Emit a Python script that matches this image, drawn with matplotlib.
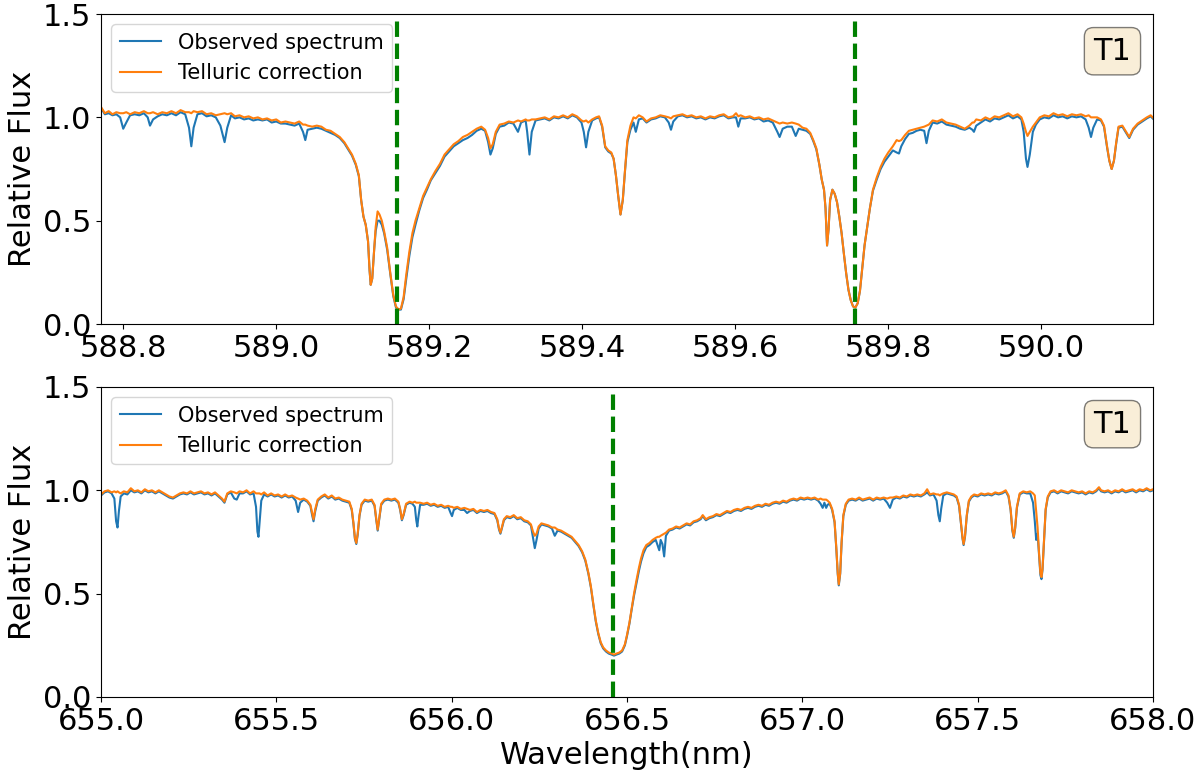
#!/usr/bin/env python3

import matplotlib
matplotlib.use("Agg")
import matplotlib.pyplot as plt

# Na D region (nm), observed spectrum and telluric-corrected spectrum
na_wave = [
    588.771, 588.776, 588.781, 588.786, 588.791, 588.796, 588.800, 588.804, 588.809, 588.815,
    588.821, 588.827, 588.832, 588.835, 588.839, 588.845, 588.851, 588.857, 588.863, 588.869,
    588.875, 588.881, 588.886, 588.889, 588.892, 588.897, 588.903, 588.909, 588.915, 588.921,
    588.927, 588.9325, 588.936, 588.941, 588.946, 588.952, 588.958, 588.964, 588.970, 588.976,
    588.982, 588.988, 588.994, 589.000, 589.006, 589.012, 589.018, 589.024, 589.030, 589.035,
    589.038, 589.041, 589.047, 589.053, 589.059, 589.065, 589.071, 589.077, 589.083, 589.089,
    589.094, 589.099, 589.104, 589.108, 589.111, 589.114, 589.117, 589.120, 589.122, 589.1235,
    589.1255, 589.128, 589.130, 589.1325, 589.135, 589.138, 589.141, 589.145, 589.149, 589.153,
    589.1565, 589.160, 589.163, 589.1665, 589.170, 589.174, 589.178, 589.182, 589.187, 589.192,
    589.197, 589.202, 589.208, 589.214, 589.220, 589.226, 589.232, 589.238, 589.244, 589.250,
    589.256, 589.262, 589.268, 589.273, 589.277, 589.280, 589.283, 589.287, 589.292, 589.298,
    589.304, 589.310, 589.316, 589.320, 589.326, 589.328, 589.331, 589.334, 589.339, 589.345,
    589.351, 589.357, 589.363, 589.369, 589.375, 589.381, 589.387, 589.393, 589.399, 589.402,
    589.405, 589.408, 589.413, 589.418, 589.422, 589.426, 589.430, 589.434, 589.438, 589.441,
    589.444, 589.447, 589.450, 589.453, 589.456, 589.459, 589.463, 589.467, 589.470, 589.474,
    589.479, 589.484, 589.490, 589.496, 589.502, 589.508, 589.513, 589.516, 589.519, 589.525,
    589.531, 589.537, 589.543, 589.549, 589.555, 589.561, 589.567, 589.573, 589.579, 589.585,
    589.591, 589.597, 589.601, 589.604, 589.607, 589.613, 589.619, 589.625, 589.631, 589.637,
    589.643, 589.649, 589.655, 589.658, 589.662, 589.668, 589.674, 589.679, 589.683, 589.688,
    589.693, 589.698, 589.702, 589.706, 589.710, 589.713, 589.716, 589.718, 589.720, 589.722,
    589.724, 589.727, 589.730, 589.733, 589.736, 589.739, 589.742, 589.745, 589.748, 589.751,
    589.754, 589.757, 589.760, 589.763, 589.766, 589.769, 589.7725, 589.776, 589.780, 589.785,
    589.790, 589.795, 589.800, 589.806, 589.811, 589.814, 589.817, 589.822, 589.827, 589.832,
    589.837, 589.842, 589.847, 589.850, 589.853, 589.858, 589.864, 589.870, 589.876, 589.882,
    589.888, 589.894, 589.900, 589.906, 589.910, 589.912, 589.915, 589.921, 589.927, 589.933,
    589.939, 589.945, 589.951, 589.957, 589.963, 589.969, 589.974, 589.977, 589.980, 589.982,
    589.985, 589.989, 589.993, 589.998, 590.004, 590.010, 590.016, 590.022, 590.028, 590.034,
    590.040, 590.046, 590.052, 590.058, 590.062, 590.065, 590.068, 590.073, 590.078, 590.082,
    590.086, 590.089, 590.092, 590.095, 590.098, 590.101, 590.106, 590.111, 590.115, 590.120,
    590.126, 590.132, 590.138, 590.143, 590.147, 590.150,
]
na_tel = [
    1.05, 1.02, 1.03, 1.015, 1.025, 1.02, 1.02, 1.025, 1.015, 1.025,
    1.02, 1.03, 1.02, 1.02, 1.025, 1.015, 1.025, 1.02, 1.03, 1.02,
    1.035, 1.025, 1.025, 1.02, 1.03, 1.025, 1.03, 1.015, 1.02, 1.01,
    1.015, 1.02, 1.015, 1.02, 1.005, 1.01, 1.0, 1.005, 0.995, 1.0,
    0.99, 0.995, 0.985, 0.99, 0.975, 0.98, 0.975, 0.97, 0.98, 0.965,
    0.965, 0.96, 0.955, 0.96, 0.955, 0.94, 0.935, 0.92, 0.905, 0.88,
    0.85, 0.82, 0.775, 0.72, 0.60, 0.52, 0.48, 0.40, 0.26, 0.19,
    0.22, 0.36, 0.47, 0.545, 0.53, 0.50, 0.45, 0.37, 0.25, 0.14,
    0.085, 0.07, 0.075, 0.13, 0.24, 0.35, 0.44, 0.50, 0.56, 0.62,
    0.66, 0.70, 0.74, 0.775, 0.82, 0.845, 0.87, 0.885, 0.905, 0.915,
    0.93, 0.945, 0.955, 0.94, 0.90, 0.85, 0.87, 0.93, 0.965, 0.97,
    0.98, 0.975, 0.985, 0.98, 0.99, 0.985, 0.985, 0.99, 0.99, 0.995,
    1.0, 0.99, 1.005, 1.0, 1.01, 1.0, 1.015, 1.005, 0.985, 0.98,
    0.985, 0.975, 0.99, 1.0, 1.005, 0.96, 0.86, 0.84, 0.83, 0.80,
    0.72, 0.62, 0.53, 0.60, 0.75, 0.89, 0.96, 1.0, 0.995, 1.01,
    1.0, 0.98, 0.995, 1.0, 1.01, 1.005, 1.0, 0.995, 1.005, 1.01,
    1.015, 1.005, 1.01, 1.0, 1.005, 0.995, 1.005, 1.0, 1.01, 1.015,
    1.0, 1.005, 1.02, 1.005, 1.01, 1.0, 1.005, 0.995, 1.0, 0.99,
    0.995, 0.985, 0.975, 0.97, 0.975, 0.97, 0.975, 0.97, 0.965, 0.95,
    0.945, 0.925, 0.89, 0.85, 0.77, 0.70, 0.65, 0.56, 0.38, 0.46,
    0.60, 0.65, 0.63, 0.59, 0.52, 0.44, 0.34, 0.245, 0.165, 0.115,
    0.085, 0.08, 0.10, 0.16, 0.27, 0.38, 0.47, 0.56, 0.65, 0.71,
    0.76, 0.80, 0.83, 0.86, 0.89, 0.885, 0.89, 0.915, 0.935, 0.94,
    0.945, 0.95, 0.955, 0.96, 0.965, 0.985, 0.98, 0.99, 0.975, 0.97,
    0.965, 0.955, 0.945, 0.96, 0.975, 0.975, 0.99, 0.985, 1.0, 0.99,
    1.005, 1.0, 1.01, 1.02, 1.005, 1.015, 1.0, 0.97, 0.93, 0.91,
    0.93, 0.955, 0.975, 1.0, 1.01, 1.005, 1.02, 1.01, 1.015, 1.005,
    1.015, 1.01, 1.015, 1.005, 1.01, 1.0, 1.0, 1.0, 0.99, 0.96,
    0.86, 0.79, 0.75, 0.79, 0.88, 0.955, 0.96, 0.93, 0.905, 0.945,
    0.97, 0.985, 1.0, 1.01, 0.995, 1.0,
]
na_obs = [
    1.045, 1.015, 1.02, 1.01, 1.015, 1.0, 0.945, 0.975, 1.01, 1.015,
    1.01, 1.02, 1.0, 0.96, 0.99, 1.005, 1.015, 1.01, 1.02, 1.01,
    1.025, 1.015, 0.95, 0.86, 0.95, 1.015, 1.02, 1.005, 1.01, 1.0,
    0.96, 0.88, 0.95, 1.01, 0.995, 1.0, 0.99, 0.995, 0.985, 0.99,
    0.985, 0.99, 0.975, 0.98, 0.97, 0.97, 0.965, 0.96, 0.97, 0.93,
    0.89, 0.94, 0.945, 0.95, 0.945, 0.935, 0.925, 0.915, 0.9, 0.875,
    0.845, 0.815, 0.77, 0.715, 0.60, 0.52, 0.48, 0.40, 0.26, 0.19,
    0.22, 0.36, 0.45, 0.50, 0.50, 0.48, 0.44, 0.36, 0.245, 0.135,
    0.08, 0.07, 0.07, 0.12, 0.22, 0.33, 0.42, 0.48, 0.55, 0.61,
    0.65, 0.695, 0.73, 0.765, 0.81, 0.835, 0.86, 0.875, 0.89, 0.9,
    0.915, 0.935, 0.945, 0.935, 0.88, 0.82, 0.85, 0.92, 0.955, 0.96,
    0.975, 0.97, 0.93, 0.975, 0.985, 0.93, 0.82, 0.93, 0.985, 0.99,
    0.995, 0.985, 1.0, 0.995, 1.005, 0.995, 1.01, 1.0, 0.975, 0.93,
    0.855, 0.93, 0.985, 0.995, 1.0, 0.955, 0.855, 0.835, 0.825, 0.80,
    0.72, 0.62, 0.53, 0.60, 0.745, 0.88, 0.94, 0.975, 0.93, 0.99,
    0.995, 0.975, 0.99, 0.995, 1.005, 1.0, 0.975, 0.94, 0.98, 1.005,
    1.01, 1.0, 1.005, 0.995, 1.0, 0.99, 1.0, 0.995, 1.005, 1.01,
    0.995, 1.0, 1.0, 0.955, 0.995, 0.995, 1.0, 0.99, 0.995, 0.98,
    0.985, 0.975, 0.93, 0.905, 0.945, 0.955, 0.955, 0.91, 0.945, 0.94,
    0.935, 0.92, 0.885, 0.845, 0.77, 0.70, 0.65, 0.56, 0.38, 0.46,
    0.60, 0.65, 0.63, 0.59, 0.52, 0.44, 0.34, 0.245, 0.165, 0.115,
    0.085, 0.08, 0.10, 0.16, 0.27, 0.38, 0.47, 0.56, 0.645, 0.70,
    0.75, 0.785, 0.81, 0.84, 0.83, 0.825, 0.86, 0.895, 0.92, 0.925,
    0.935, 0.94, 0.935, 0.875, 0.935, 0.975, 0.97, 0.98, 0.965, 0.96,
    0.955, 0.945, 0.94, 0.95, 0.94, 0.93, 0.96, 0.975, 0.99, 0.98,
    0.995, 0.99, 1.0, 1.01, 0.995, 1.005, 0.99, 0.93, 0.80, 0.76,
    0.82, 0.93, 0.965, 0.99, 1.0, 0.995, 1.01, 1.0, 1.005, 0.995,
    1.005, 1.0, 1.005, 0.99, 0.95, 0.905, 0.95, 0.99, 0.985, 0.955,
    0.855, 0.79, 0.75, 0.79, 0.875, 0.95, 0.955, 0.925, 0.9, 0.94,
    0.965, 0.98, 0.995, 1.005, 0.99, 0.995,
]

# H-alpha region (nm)
ha_wave = [
    655.000, 655.010, 655.020, 655.030, 655.038, 655.043, 655.047, 655.051, 655.056, 655.065,
    655.075, 655.085, 655.095, 655.105, 655.115, 655.125, 655.135, 655.145, 655.155, 655.165,
    655.175, 655.185, 655.195, 655.205, 655.215, 655.225, 655.235, 655.245, 655.255, 655.265,
    655.275, 655.285, 655.295, 655.305, 655.315, 655.325, 655.335, 655.345, 655.352, 655.360,
    655.370, 655.380, 655.387, 655.395, 655.405, 655.415, 655.425, 655.435, 655.442, 655.446,
    655.449, 655.452, 655.457, 655.465, 655.475, 655.485, 655.495, 655.505, 655.515, 655.525,
    655.535, 655.545, 655.555, 655.562, 655.568, 655.578, 655.588, 655.597, 655.602, 655.606,
    655.611, 655.618, 655.628, 655.638, 655.648, 655.658, 655.668, 655.678, 655.688, 655.698,
    655.708, 655.715, 655.720, 655.724, 655.728, 655.732, 655.737, 655.743, 655.752, 655.762,
    655.772, 655.780, 655.785, 655.789, 655.793, 655.799, 655.808, 655.818, 655.828, 655.838,
    655.848, 655.853, 655.858, 655.863, 655.870, 655.880, 655.888, 655.895, 655.899, 655.902,
    655.905, 655.910, 655.920, 655.930, 655.940, 655.950, 655.960, 655.970, 655.980, 655.990,
    655.997, 656.001, 656.006, 656.016, 656.026, 656.036, 656.044, 656.052, 656.062, 656.072,
    656.082, 656.092, 656.102, 656.112, 656.122, 656.130, 656.135, 656.139, 656.143, 656.149,
    656.157, 656.167, 656.177, 656.187, 656.197, 656.207, 656.217, 656.226, 656.232, 656.237,
    656.242, 656.248, 656.256, 656.266, 656.276, 656.286, 656.294, 656.302, 656.312, 656.322,
    656.332, 656.342, 656.352, 656.362, 656.372, 656.381, 656.390, 656.397, 656.404, 656.411,
    656.418, 656.425, 656.432, 656.440, 656.448, 656.456, 656.463, 656.470, 656.478, 656.486,
    656.494, 656.500, 656.507, 656.513, 656.520, 656.527, 656.534, 656.540, 656.547, 656.555,
    656.564, 656.573, 656.582, 656.588, 656.592, 656.596, 656.601, 656.606, 656.611, 656.620,
    656.630, 656.640, 656.650, 656.660, 656.670, 656.680, 656.690, 656.700, 656.710, 656.716,
    656.725, 656.735, 656.745, 656.755, 656.765, 656.775, 656.785, 656.795, 656.805, 656.815,
    656.825, 656.835, 656.845, 656.855, 656.865, 656.875, 656.885, 656.895, 656.905, 656.915,
    656.925, 656.935, 656.945, 656.955, 656.965, 656.975, 656.985, 656.995, 657.005, 657.015,
    657.025, 657.035, 657.045, 657.052, 657.058, 657.063, 657.068, 657.072, 657.078, 657.085,
    657.092, 657.097, 657.101, 657.104, 657.108, 657.112, 657.117, 657.124, 657.132, 657.142,
    657.152, 657.162, 657.172, 657.182, 657.192, 657.202, 657.212, 657.222, 657.232, 657.242,
    657.250, 657.258, 657.268, 657.278, 657.288, 657.298, 657.308, 657.318, 657.328, 657.338,
    657.348, 657.356, 657.364, 657.374, 657.383, 657.388, 657.392, 657.396, 657.402, 657.412,
    657.422, 657.432, 657.440, 657.447, 657.452, 657.457, 657.460, 657.464, 657.469, 657.475,
    657.482, 657.490, 657.500, 657.510, 657.520, 657.530, 657.540, 657.550, 657.560, 657.570,
    657.580, 657.588, 657.594, 657.599, 657.603, 657.607, 657.612, 657.620, 657.630, 657.640,
    657.650, 657.658, 657.663, 657.667, 657.671, 657.675, 657.679, 657.682, 657.685, 657.689,
    657.694, 657.700, 657.708, 657.718, 657.728, 657.738, 657.748, 657.758, 657.768, 657.778,
    657.788, 657.798, 657.808, 657.818, 657.828, 657.838, 657.846, 657.852, 657.862, 657.872,
    657.882, 657.892, 657.902, 657.912, 657.922, 657.932, 657.942, 657.952, 657.962, 657.972,
    657.982, 657.992, 658.000,
]
ha_tel = [
    0.98, 0.995, 1.0, 0.99, 0.995, 0.99, 0.995, 0.99, 0.985, 0.995,
    0.99, 1.01, 0.995, 1.0, 0.99, 1.005, 0.995, 1.0, 0.99, 1.0,
    0.99, 0.98, 0.97, 0.965, 0.975, 0.985, 0.99, 0.985, 0.995, 0.985,
    0.99, 0.995, 0.985, 0.99, 0.98, 0.99, 0.975, 0.96, 0.945, 0.985,
    0.995, 0.99, 0.985, 0.995, 0.99, 1.0, 0.985, 0.995, 0.985, 0.985,
    0.985, 0.985, 0.98, 0.99, 0.975, 0.985, 0.975, 0.98, 0.97, 0.98,
    0.97, 0.975, 0.965, 0.96, 0.955, 0.96, 0.95, 0.93, 0.89, 0.86,
    0.91, 0.955, 0.97, 0.98, 0.965, 0.975, 0.96, 0.965, 0.955, 0.95,
    0.945, 0.91, 0.84, 0.77, 0.745, 0.79, 0.88, 0.935, 0.955, 0.95,
    0.955, 0.93, 0.86, 0.81, 0.86, 0.935, 0.955, 0.96, 0.955, 0.96,
    0.945, 0.91, 0.86, 0.885, 0.935, 0.945, 0.94, 0.945, 0.94, 0.94,
    0.94, 0.94, 0.935, 0.94, 0.93, 0.935, 0.925, 0.93, 0.92, 0.925,
    0.92, 0.92, 0.915, 0.92, 0.91, 0.915, 0.91, 0.905, 0.91, 0.895,
    0.905, 0.90, 0.905, 0.895, 0.89, 0.86, 0.815, 0.795, 0.82, 0.86,
    0.875, 0.87, 0.88, 0.865, 0.87, 0.855, 0.85, 0.835, 0.80, 0.78,
    0.79, 0.825, 0.84, 0.835, 0.83, 0.82, 0.82, 0.81, 0.805, 0.795,
    0.785, 0.775, 0.755, 0.735, 0.705, 0.665, 0.60, 0.535, 0.45, 0.37,
    0.31, 0.265, 0.24, 0.225, 0.215, 0.21, 0.205, 0.21, 0.215, 0.225,
    0.255, 0.30, 0.36, 0.425, 0.50, 0.565, 0.625, 0.67, 0.71, 0.735,
    0.745, 0.76, 0.77, 0.775, 0.775, 0.78, 0.785, 0.79, 0.795, 0.81,
    0.815, 0.825, 0.82, 0.83, 0.84, 0.835, 0.85, 0.855, 0.865, 0.88,
    0.86, 0.87, 0.875, 0.885, 0.88, 0.89, 0.90, 0.895, 0.905, 0.91,
    0.905, 0.915, 0.92, 0.915, 0.925, 0.93, 0.925, 0.935, 0.93, 0.94,
    0.945, 0.94, 0.95, 0.945, 0.955, 0.96, 0.955, 0.965, 0.96, 0.965,
    0.96, 0.965, 0.955, 0.96, 0.955, 0.955, 0.955, 0.95, 0.94, 0.91,
    0.85, 0.72, 0.60, 0.545, 0.60, 0.75, 0.88, 0.935, 0.955, 0.96,
    0.955, 0.965, 0.955, 0.96, 0.965, 0.955, 0.965, 0.96, 0.965, 0.96,
    0.965, 0.965, 0.97, 0.965, 0.975, 0.97, 0.98, 0.975, 0.98, 0.975,
    0.985, 1.005, 0.98, 0.985, 0.98, 0.98, 0.975, 0.98, 0.985, 0.99,
    0.985, 0.98, 0.97, 0.93, 0.85, 0.77, 0.74, 0.78, 0.88, 0.95,
    0.97, 0.98, 0.975, 0.985, 0.98, 0.985, 0.98, 0.99, 0.985, 0.99,
    1.0, 0.975, 0.91, 0.81, 0.775, 0.82, 0.92, 0.985, 0.995, 0.99,
    0.995, 0.985, 0.975, 0.90, 0.82, 0.70, 0.60, 0.58, 0.62, 0.75,
    0.91, 0.97, 0.995, 1.0, 0.99, 1.0, 0.995, 0.99, 1.0, 0.995,
    0.99, 0.995, 0.985, 0.995, 0.99, 1.0, 1.015, 1.0, 0.995, 1.0,
    0.99, 1.0, 0.995, 1.005, 0.995, 1.0, 1.005, 0.995, 1.005, 1.0,
    1.01, 1.0, 1.005,
]
ha_obs = [
    0.975, 0.99, 0.995, 0.985, 0.96, 0.85, 0.82, 0.90, 0.97, 0.985,
    0.98, 1.0, 0.99, 0.995, 0.985, 1.0, 0.99, 0.995, 0.985, 0.995,
    0.985, 0.975, 0.965, 0.96, 0.97, 0.98, 0.985, 0.98, 0.99, 0.98,
    0.985, 0.99, 0.98, 0.985, 0.975, 0.985, 0.97, 0.955, 0.94, 0.98,
    0.99, 0.96, 0.955, 0.985, 0.985, 0.995, 0.98, 0.985, 0.92, 0.80,
    0.775, 0.84, 0.95, 0.98, 0.97, 0.98, 0.97, 0.975, 0.965, 0.975,
    0.965, 0.97, 0.95, 0.895, 0.94, 0.955, 0.945, 0.925, 0.88, 0.85,
    0.90, 0.95, 0.965, 0.975, 0.96, 0.97, 0.955, 0.96, 0.95, 0.945,
    0.94, 0.905, 0.835, 0.765, 0.74, 0.785, 0.875, 0.93, 0.95, 0.945,
    0.95, 0.925, 0.855, 0.805, 0.855, 0.93, 0.95, 0.955, 0.95, 0.955,
    0.94, 0.905, 0.855, 0.88, 0.93, 0.94, 0.935, 0.92, 0.855, 0.825,
    0.87, 0.93, 0.93, 0.935, 0.925, 0.93, 0.92, 0.925, 0.915, 0.92,
    0.89, 0.875, 0.905, 0.915, 0.905, 0.905, 0.89, 0.90, 0.905, 0.89,
    0.90, 0.895, 0.90, 0.89, 0.885, 0.855, 0.81, 0.79, 0.815, 0.855,
    0.87, 0.865, 0.875, 0.86, 0.865, 0.85, 0.845, 0.83, 0.77, 0.72,
    0.76, 0.815, 0.835, 0.83, 0.825, 0.815, 0.78, 0.805, 0.80, 0.79,
    0.78, 0.77, 0.75, 0.73, 0.70, 0.66, 0.595, 0.53, 0.445, 0.365,
    0.305, 0.26, 0.235, 0.22, 0.21, 0.205, 0.20, 0.205, 0.21, 0.22,
    0.25, 0.295, 0.355, 0.42, 0.49, 0.55, 0.61, 0.655, 0.695, 0.725,
    0.735, 0.75, 0.76, 0.73, 0.71, 0.76, 0.74, 0.68, 0.78, 0.805,
    0.81, 0.82, 0.815, 0.825, 0.835, 0.83, 0.845, 0.85, 0.86, 0.875,
    0.855, 0.865, 0.87, 0.88, 0.875, 0.885, 0.895, 0.89, 0.90, 0.905,
    0.90, 0.91, 0.915, 0.91, 0.92, 0.925, 0.92, 0.93, 0.925, 0.935,
    0.94, 0.935, 0.945, 0.94, 0.95, 0.955, 0.95, 0.96, 0.955, 0.96,
    0.955, 0.96, 0.95, 0.935, 0.915, 0.94, 0.915, 0.93, 0.935, 0.905,
    0.845, 0.715, 0.595, 0.54, 0.595, 0.745, 0.875, 0.93, 0.95, 0.955,
    0.95, 0.96, 0.95, 0.955, 0.96, 0.95, 0.96, 0.955, 0.96, 0.94,
    0.915, 0.955, 0.965, 0.96, 0.97, 0.965, 0.975, 0.97, 0.975, 0.97,
    0.98, 0.99, 0.975, 0.98, 0.95, 0.88, 0.85, 0.91, 0.975, 0.985,
    0.98, 0.975, 0.965, 0.925, 0.845, 0.765, 0.735, 0.775, 0.875, 0.945,
    0.965, 0.975, 0.97, 0.98, 0.975, 0.98, 0.975, 0.985, 0.98, 0.985,
    0.995, 0.97, 0.905, 0.805, 0.77, 0.815, 0.915, 0.98, 0.99, 0.985,
    0.985, 0.94, 0.85, 0.76, 0.79, 0.69, 0.59, 0.57, 0.615, 0.745,
    0.905, 0.965, 0.99, 0.995, 0.985, 0.995, 0.99, 0.985, 0.995, 0.99,
    0.985, 0.99, 0.98, 0.99, 0.985, 0.995, 1.01, 0.995, 0.99, 0.995,
    0.985, 0.995, 0.99, 1.0, 0.99, 0.995, 1.0, 0.99, 1.0, 0.995,
    1.005, 0.995, 1.0,
]

# rest wavelengths marked with dashed lines
na_lines = [589.158, 589.756]
ha_lines = [656.461]

panels = [
    (na_wave, na_obs, na_tel, na_lines, (588.771, 590.146)),
    (ha_wave, ha_obs, ha_tel, ha_lines, (655.0, 658.0)),
]


def init_figure_settings():
    plt.rcParams["figure.figsize"] = [12, 7.79]
    plt.rcParams["figure.dpi"] = 100
    plt.rcParams["font.size"] = 22


def plot_panel(ax, wave, obs, tel, lines, xlim):
    ax.plot(wave, obs, color="C0", lw=1.5, label="Observed spectrum")
    ax.plot(wave, tel, color="C1", lw=1.5, label="Telluric correction")
    for w in lines:
        ax.axvline(w, color="g", ls="--", lw=3)
    ax.set_xlim(*xlim)
    ax.set_ylim(0, 1.5)
    ax.set_yticks([0.0, 0.5, 1.0, 1.5])
    ax.set_ylabel("Relative Flux", fontsize=22)
    ax.tick_params(labelsize=22)
    ax.legend(loc="upper left", fontsize=15)
    ax.text(0.9615, 0.88, "T1", transform=ax.transAxes, fontsize=22,
            ha="center", va="center",
            bbox=dict(boxstyle="round", facecolor="wheat", alpha=0.5))


if __name__ == "__main__":
    init_figure_settings()
    fig, axes = plt.subplots(2, 1)
    fig.subplots_adjust(left=0.0842, right=0.9608, top=0.982, bottom=0.1053, hspace=0.203)
    for ax, (wave, obs, tel, lines, xlim) in zip(axes, panels):
        plot_panel(ax, wave, obs, tel, lines, xlim)
    axes[1].set_xlabel("Wavelength(nm)", fontsize=22)
    plt.savefig("out.png", dpi=100)
